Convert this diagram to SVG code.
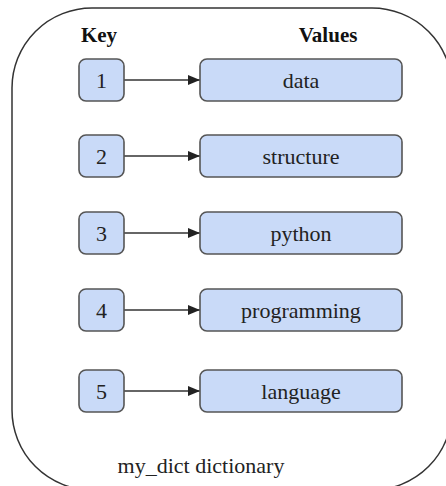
<svg xmlns="http://www.w3.org/2000/svg" width="446" height="486" viewBox="0 0 446 486">
  <style>
    .frame { fill: #ffffff; stroke: #333333; stroke-width: 1.5; }
    .box { fill: #c9daf8; stroke: #555555; stroke-width: 1.6; }
    text { font-family: 'Liberation Serif', 'Times New Roman', serif; }
    .lbl { font-size: 22px; fill: #222222; text-anchor: middle; }
    .head { font-size: 21px; font-weight: bold; fill: #111111; text-anchor: middle; }
    .link { stroke: #333333; stroke-width: 1.6; fill: none; marker-end: url(#tip); }
  </style>
  <defs>
    <marker id="tip" viewBox="0 0 12 10" refX="12" refY="5" markerWidth="12" markerHeight="10" markerUnits="userSpaceOnUse" orient="auto">
      <path d="M0,0 L12,5 L0,10 z" fill="#222222"/>
    </marker>
  </defs>

  <!-- dictionary container -->
  <rect class="frame" x="12" y="8" width="440" height="482" rx="80" ry="80"/>
  <text class="head" x="99" y="42">Key</text>
  <text class="head" x="328" y="42">Values</text>
  <text class="lbl" x="201" y="473">my_dict dictionary</text>

  <!-- connectors -->
  <g id="connectors">
    <line class="link" x1="124" y1="80" x2="200" y2="80"/>
    <line class="link" x1="124" y1="156" x2="200" y2="156"/>
    <line class="link" x1="124" y1="233" x2="200" y2="233"/>
    <line class="link" x1="124" y1="310" x2="200" y2="310"/>
    <line class="link" x1="124" y1="391" x2="200" y2="391"/>
  </g>

  <!-- keys -->
  <g id="key1"><rect class="box" x="79" y="59" width="45" height="42" rx="7"/><text class="lbl" x="101.5" y="88">1</text></g>
  <g id="key2"><rect class="box" x="79" y="135" width="45" height="42" rx="7"/><text class="lbl" x="101.5" y="164">2</text></g>
  <g id="key3"><rect class="box" x="79" y="212" width="45" height="42" rx="7"/><text class="lbl" x="101.5" y="241">3</text></g>
  <g id="key4"><rect class="box" x="79" y="289" width="45" height="42" rx="7"/><text class="lbl" x="101.5" y="318">4</text></g>
  <g id="key5"><rect class="box" x="79" y="370" width="45" height="42" rx="7"/><text class="lbl" x="101.5" y="399">5</text></g>

  <!-- values -->
  <g id="value1"><rect class="box" x="200" y="59" width="202" height="42" rx="7"/><text class="lbl" x="301" y="88">data</text></g>
  <g id="value2"><rect class="box" x="200" y="135" width="202" height="42" rx="7"/><text class="lbl" x="301" y="164">structure</text></g>
  <g id="value3"><rect class="box" x="200" y="212" width="202" height="42" rx="7"/><text class="lbl" x="301" y="241">python</text></g>
  <g id="value4"><rect class="box" x="200" y="289" width="202" height="42" rx="7"/><text class="lbl" x="301" y="318">programming</text></g>
  <g id="value5"><rect class="box" x="200" y="370" width="202" height="42" rx="7"/><text class="lbl" x="301" y="399">language</text></g>
</svg>
